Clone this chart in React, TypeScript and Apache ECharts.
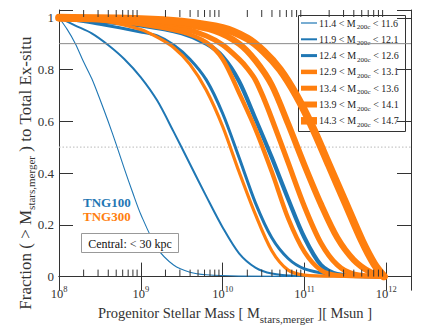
import React, { useEffect, useRef } from 'react';
import * as echarts from 'echarts';

const FONT = 'Liberation Serif, serif';
const BLUE = '#1f77b4';
const ORANGE = '#ff7f0e';

// x = log10(progenitor stellar mass / Msun), y = fraction of ex-situ
const b1X = [8, 8.1, 8.2, 8.3, 8.4, 8.5, 8.6, 8.7, 8.8, 8.9, 9.0, 9.2, 9.4, 9.6, 9.8, 10.2, 11.6];
const b1Y = [1, 0.955, 0.9, 0.83, 0.765, 0.685, 0.6, 0.51, 0.415, 0.325, 0.24, 0.11, 0.045, 0.017, 0.007, 0.002, 0];

const b2X = [8, 8.2, 8.4, 8.6, 8.8, 9.0, 9.2, 9.4, 9.6, 9.8, 10.0, 10.2, 10.4, 10.6, 10.9, 11.6];
const b2Y = [1, 0.97, 0.94, 0.895, 0.84, 0.77, 0.68, 0.56, 0.435, 0.31, 0.19, 0.09, 0.035, 0.012, 0.003, 0];

const b3X = [8, 8.5, 9.0, 9.2, 9.4, 9.6, 9.8, 10.0, 10.2, 10.4, 10.6, 10.8, 11.0, 11.3, 11.6];
const b3Y = [1, 0.975, 0.945, 0.93, 0.895, 0.84, 0.76, 0.63, 0.46, 0.285, 0.15, 0.07, 0.03, 0.009, 0];

const b4X = [8, 8.5, 9.0, 9.5, 9.8, 10.0, 10.2, 10.4, 10.6, 10.8, 11.0, 11.2, 11.4, 11.9];
const b4Y = [1, 0.985, 0.97, 0.94, 0.9, 0.85, 0.755, 0.61, 0.46, 0.3, 0.15, 0.045, 0.01, 0];

const o1X = [8, 8.5, 9.0, 9.2, 9.4, 9.6, 9.8, 10.0, 10.2, 10.4, 10.6, 10.8, 11.0, 11.5, 11.95];
const o1Y = [1, 0.99, 0.955, 0.925, 0.885, 0.82, 0.72, 0.58, 0.405, 0.24, 0.1, 0.025, 0.006, 0.001, 0];

const o2X = [8, 8.5, 9.0, 9.5, 9.8, 10.0, 10.2, 10.4, 10.6, 10.8, 11.0, 11.2, 11.4, 11.95];
const o2Y = [1, 0.99, 0.975, 0.945, 0.905, 0.84, 0.71, 0.57, 0.405, 0.225, 0.095, 0.025, 0.005, 0];

const o3X = [8, 8.5, 9.0, 9.5, 9.8, 10.0, 10.2, 10.3, 10.4, 10.5, 10.6, 10.8, 11.0, 11.2, 11.4, 11.6, 11.97];
const o3Y = [1, 0.995, 0.985, 0.96, 0.93, 0.895, 0.84, 0.805, 0.76, 0.69, 0.61, 0.44, 0.27, 0.13, 0.045, 0.01, 0];

const o4X = [8, 9.0, 9.5, 9.9, 10.2, 10.4, 10.6, 10.8, 11.0, 11.2, 11.4, 11.6, 11.8, 11.97];
const o4Y = [1, 0.99, 0.975, 0.95, 0.9, 0.835, 0.74, 0.59, 0.43, 0.28, 0.15, 0.065, 0.018, 0];

const o5X = [8, 9.0, 9.5, 10.0, 10.3, 10.5, 10.7, 10.9, 11.1, 11.3, 11.5, 11.7, 11.85, 11.97];
const o5Y = [1, 0.995, 0.985, 0.96, 0.92, 0.87, 0.8, 0.7, 0.575, 0.43, 0.285, 0.14, 0.05, 0];

const refSolid = 0.9;
const refDotted = 0.5;

const xMin = 8;
const xMax = 12.301;
const yMax = 1.03;
const decades = [8, 9, 10, 11];
const minorMultipliers = [2, 3, 4, 5, 6, 7, 8, 9];

const legendLo = ['11.4', '11.9', '12.4', '12.9', '13.4', '13.9', '14.3'];
const legendHi = ['11.6', '12.1', '12.6', '13.1', '13.6', '14.1', '14.7'];

export default function App() {
  const ref = useRef<HTMLDivElement>(null);
  useEffect(() => {
    if (!ref.current) return;
    const chart = echarts.init(ref.current, undefined, { renderer: 'svg' });
    const zip = (xs: number[], ys: number[]) => xs.map((v, i) => [v, ys[i]]);

    const curves = [
      { d: zip(b1X, b1Y), c: BLUE, w: 1.1 },
      { d: zip(b2X, b2Y), c: BLUE, w: 2 },
      { d: zip(b3X, b3Y), c: BLUE, w: 3 },
      { d: zip(b4X, b4Y), c: BLUE, w: 4.2 },
      { d: zip(o1X, o1Y), c: ORANGE, w: 3.2 },
      { d: zip(o2X, o2Y), c: ORANGE, w: 4.4 },
      { d: zip(o3X, o3Y), c: ORANGE, w: 5.2 },
      { d: zip(o4X, o4Y), c: ORANGE, w: 6.2 },
      { d: zip(o5X, o5Y), c: ORANGE, w: 7.8 },
    ];

    const minorTicks: number[][] = [];
    decades.forEach((d) => minorMultipliers.forEach((m) => minorTicks.push([d + Math.log10(m), 0])));

    const lineSeries = curves.map((cv) => ({
      type: 'line',
      data: cv.d,
      showSymbol: false,
      symbol: 'none',
      smooth: 0.3,
      lineStyle: { color: cv.c, width: cv.w, cap: 'round', join: 'round' },
      silent: true,
      z: 3,
    }));

    const legendWidths = [1.2, 2, 3, 4.5, 5, 6, 7.5];
    const legendColors = [BLUE, BLUE, BLUE, ORANGE, ORANGE, ORANGE, ORANGE];
    const lx = 298, ly = 15, lw = 107, lh = 116;
    const rowY0 = 23, rowDy = 16.3;
    const legendChildren: any[] = [
      { type: 'rect', shape: { x: lx + 0.5, y: ly + 0.5, width: lw, height: lh }, style: { fill: '#fff', stroke: '#333', lineWidth: 1 } },
    ];
    legendLo.forEach((lo, i) => {
      const y = rowY0 + i * rowDy;
      legendChildren.push({ type: 'line', shape: { x1: 301, y1: y, x2: 317, y2: y }, style: { stroke: legendColors[i], lineWidth: legendWidths[i] } });
      legendChildren.push({
        type: 'text', x: 319, y: y,
        style: {
          text: `${lo} < M{sub|200c} < ${legendHi[i]}`,
          fontSize: 10, fontFamily: FONT, fill: '#222', align: 'left', verticalAlign: 'middle',
          rich: { sub: { fontSize: 7, fontFamily: FONT, fill: '#222', padding: [8, 0, 0, 1] } },
        },
      });
    });

    const option: any = {
      animation: false,
      textStyle: { fontFamily: FONT },
      grid: { left: 59, right: 14, top: 10, bottom: 47 },
      xAxis: [
        {
          type: 'value', min: xMin, max: xMax, interval: 1, position: 'bottom',
          axisLine: { show: true, lineStyle: { color: '#333', width: 1 } },
          axisTick: { show: true, inside: true, length: 14, lineStyle: { color: '#333' } },
          splitLine: { show: false },
          axisLabel: {
            margin: 8, color: '#333', fontSize: 12.5, fontFamily: FONT,
            formatter: (v: number) => (Math.abs(v - Math.round(v)) < 1e-6 ? `10{sup|${Math.round(v)}}` : ''),
            rich: { sup: { fontSize: 8.5, fontFamily: FONT, color: '#333', padding: [0, 0, 10, 0] } },
          },
          name: 'Progenitor Stellar Mass [ M{sub|stars,merger} ][ Msun ]',
          nameLocation: 'middle', nameGap: 22,
          nameTextStyle: {
            fontSize: 14.5, fontFamily: FONT, color: '#333',
            rich: { sub: { fontSize: 11, fontFamily: FONT, color: '#333', padding: [11, 0, 0, 0] } },
          },
        },
        {
          type: 'value', min: xMin, max: xMax, interval: 1, position: 'top',
          axisLine: { show: true, lineStyle: { color: '#333', width: 1 } },
          axisTick: { show: true, inside: true, length: 14, lineStyle: { color: '#333' } },
          axisLabel: { show: false }, splitLine: { show: false },
        },
      ],
      yAxis: [
        {
          type: 'value', min: 0, max: yMax, interval: 0.2, position: 'left',
          axisLine: { show: true, lineStyle: { color: '#333', width: 1 } },
          axisTick: { show: true, inside: true, length: 14, lineStyle: { color: '#333' } },
          splitLine: { show: false },
          axisLabel: {
            margin: 5, color: '#333', fontSize: 13, fontFamily: FONT,
            formatter: (v: number) => (Math.abs(v * 5 - Math.round(v * 5)) < 1e-6 ? String(+v.toFixed(1)) : ''),
          },
        },
        {
          type: 'value', min: 0, max: yMax, interval: 0.2, position: 'right',
          axisLine: { show: true, lineStyle: { color: '#333', width: 1 } },
          axisTick: { show: true, inside: true, length: 14, lineStyle: { color: '#333' } },
          axisLabel: { show: false }, splitLine: { show: false },
        },
      ],
      series: [
        {
          type: 'line', data: [[xMin, refDotted], [xMax, refDotted]], symbol: 'none', silent: true, z: 1,
          lineStyle: { color: '#c8c8c8', width: 1.2, type: [1.5, 2] },
        },
        ...lineSeries,
        {
          type: 'line', data: [[xMin, refSolid], [xMax, refSolid]], symbol: 'none', silent: true, z: 4,
          lineStyle: { color: '#8a8a8a', width: 1 },
        },
        {
          type: 'custom', data: minorTicks, silent: true, z: 5, encode: { x: 0, y: 1 },
          renderItem: (params: any, api: any) => {
            const x = api.value(0);
            const b = api.coord([x, 0]);
            const t = api.coord([x, yMax]);
            return {
              type: 'group',
              children: [
                { type: 'line', shape: { x1: b[0], y1: b[1], x2: b[0], y2: b[1] - 7 }, style: { stroke: '#333', lineWidth: 1 } },
                { type: 'line', shape: { x1: t[0], y1: t[1], x2: t[0], y2: t[1] + 7 }, style: { stroke: '#333', lineWidth: 1 } },
              ],
            };
          },
        },
      ],
      graphic: [
        {
          type: 'text', x: 25, y: 173, rotation: Math.PI / 2,
          style: {
            text: 'Fraction ( > M{sub|stars,merger} ) to Total Ex-situ',
            fontSize: 17, fontFamily: FONT, fill: '#333', align: 'center', verticalAlign: 'middle',
            rich: { sub: { fontSize: 11, fontFamily: FONT, fill: '#333', padding: [12, 0, 0, 0] } },
          },
        },
        { type: 'text', x: 83, y: 202, style: { text: 'TNG100', fontSize: 13, fontWeight: 'bold', fontFamily: FONT, fill: BLUE, align: 'left', verticalAlign: 'middle' } },
        { type: 'text', x: 83, y: 216.5, style: { text: 'TNG300', fontSize: 13, fontWeight: 'bold', fontFamily: FONT, fill: ORANGE, align: 'left', verticalAlign: 'middle' } },
        { type: 'rect', shape: { x: 81.5, y: 233.5, width: 97, height: 19 }, style: { fill: '#fff', stroke: '#999', lineWidth: 1 }, z: 10 },
        { type: 'text', x: 130, y: 243.5, z: 11, style: { text: 'Central: < 30 kpc', fontSize: 12, fontFamily: FONT, fill: '#111', align: 'center', verticalAlign: 'middle' } },
        { type: 'group', z: 20, children: legendChildren },
      ],
    };
    chart.setOption(option);
    return () => chart.dispose();
  }, []);
  return <div ref={ref} style={{ width: 425, height: 329, position: 'absolute', left: 0, top: 0 }} />;
}
